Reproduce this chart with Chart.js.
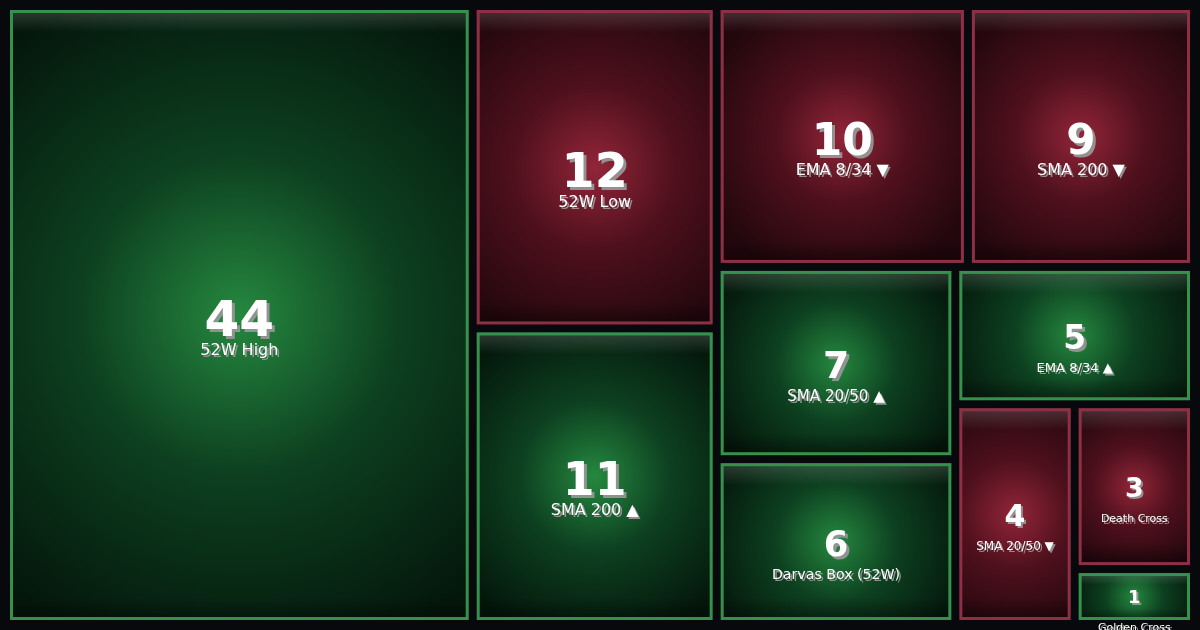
<!DOCTYPE html>
<html>
<head>
<meta charset="utf-8">
<script src="https://cdn.jsdelivr.net/npm/chart.js@4.4.1/dist/chart.umd.min.js"></script>
<style>
  html, body { margin: 0; padding: 0; background: #07090d; }
  #wrap { width: 1200px; height: 630px; }
</style>
</head>
<body>
<div id="wrap"><canvas id="treemap"></canvas></div>
<script>
// signal counts, largest first
const signalLabels = ['52W High', '52W Low', 'SMA 200 ▲', 'EMA 8/34 ▼', 'SMA 200 ▼', 'SMA 20/50 ▲', 'Darvas Box (52W)', 'EMA 8/34 ▲', 'SMA 20/50 ▼', 'Death Cross', 'Golden Cross'];
const signalCounts = [44, 12, 11, 10, 9, 7, 6, 5, 4, 3, 1];
const signalTrend = ['up', 'down', 'up', 'down', 'down', 'up', 'up', 'up', 'down', 'down', 'up'];

const palettes = {
  up: { inner: '#25883f', mid: '#0d4020', outer: '#04170b', border: '#35914c' },
  down: { inner: '#922539', mid: '#4e101c', outer: '#22070d', border: '#8e3044' }
};

// squarified treemap layout (Bruls et al.)
function squarify(values, x, y, w, h) {
  const total = values.reduce((a, b) => a + b, 0);
  const k = (w * h) / total;
  const items = values.map((v, i) => ({ i, a: v * k }));
  const out = [];
  let rect = { x, y, w, h };

  const worst = (row, side) => {
    const s = row.reduce((a, r) => a + r.a, 0);
    let max = -Infinity, min = Infinity;
    row.forEach(r => { max = Math.max(max, r.a); min = Math.min(min, r.a); });
    return Math.max((side * side * max) / (s * s), (s * s) / (side * side * min));
  };

  const layoutRow = row => {
    const s = row.reduce((a, r) => a + r.a, 0);
    if (rect.w >= rect.h) {
      const cw = s / rect.h;
      let cy = rect.y;
      row.forEach(r => { const hh = r.a / cw; out[r.i] = { x: rect.x, y: cy, w: cw, h: hh }; cy += hh; });
      rect = { x: rect.x + cw, y: rect.y, w: rect.w - cw, h: rect.h };
    } else {
      const rh = s / rect.w;
      let cx = rect.x;
      row.forEach(r => { const ww = r.a / rh; out[r.i] = { x: cx, y: rect.y, w: ww, h: rh }; cx += ww; });
      rect = { x: rect.x, y: rect.y + rh, w: rect.w, h: rect.h - rh };
    }
  };

  let row = [];
  let n = 0;
  while (n < items.length) {
    const side = Math.min(rect.w, rect.h);
    const next = items[n];
    if (!row.length || worst(row.concat(next), side) <= worst(row, side)) {
      row.push(next);
      n++;
    } else {
      layoutRow(row);
      row = [];
    }
  }
  if (row.length) layoutRow(row);
  return out;
}

function shadowText(ctx, text, x, y, off) {
  ctx.fillStyle = 'rgba(150,150,150,0.95)';
  ctx.fillText(text, x + off, y + off);
  ctx.fillStyle = '#ffffff';
  ctx.fillText(text, x, y);
}

function drawCell(ctx, r, i) {
  const gap = 4;
  const x0 = r.x + gap, y0 = r.y + gap, w = r.w - 2 * gap, h = r.h - 2 * gap;
  const pal = palettes[signalTrend[i]];
  const mx = x0 + w / 2, my = y0 + h / 2;

  const glow = ctx.createRadialGradient(mx, my, 0, mx, my, Math.max(w, h) * 0.58);
  glow.addColorStop(0, pal.inner);
  glow.addColorStop(0.45, pal.mid);
  glow.addColorStop(1, pal.outer);
  ctx.fillStyle = glow;
  ctx.fillRect(x0, y0, w, h);

  const band = Math.min(22, h / 4);
  const sheen = ctx.createLinearGradient(0, y0, 0, y0 + band);
  sheen.addColorStop(0, 'rgba(255,255,255,0.17)');
  sheen.addColorStop(1, 'rgba(255,255,255,0)');
  ctx.fillStyle = sheen;
  ctx.fillRect(x0, y0, w, band);

  const shade = ctx.createLinearGradient(0, y0 + h - band, 0, y0 + h);
  shade.addColorStop(0, 'rgba(0,0,0,0)');
  shade.addColorStop(1, 'rgba(0,0,0,0.4)');
  ctx.fillStyle = shade;
  ctx.fillRect(x0, y0 + h - band, w, band);

  ctx.lineWidth = 3;
  ctx.strokeStyle = pal.border;
  ctx.strokeRect(x0 + 1.5, y0 + 1.5, w - 3, h - 3);

  const numSize = Math.min(50, 6 + 12 * Math.sqrt(signalCounts[i]));
  const labSize = Math.max(11, Math.min(16, numSize * 0.4));
  ctx.textAlign = 'center';
  ctx.textBaseline = 'middle';
  ctx.font = `bold ${numSize}px "DejaVu Sans"`;
  shadowText(ctx, String(signalCounts[i]), mx, my + numSize * 0.2 - 2, numSize > 30 ? 3 : 2);
  ctx.font = `${labSize}px "DejaVu Sans"`;
  shadowText(ctx, signalLabels[i], mx, my + 29 + numSize * 0.13, 2);
}

const treemapCells = {
  id: 'treemapCells',
  afterDatasetsDraw(chart) {
    const { ctx, scales: { x, y } } = chart;
    const left = x.getPixelForValue(0);
    const right = x.getPixelForValue(1);
    const top = y.getPixelForValue(1);
    const bottom = y.getPixelForValue(0);
    const rects = squarify(signalCounts, left, top, right - left, bottom - top);
    ctx.save();
    rects.forEach((r, i) => drawCell(ctx, r, i));
    ctx.restore();
  }
};

new Chart(document.getElementById('treemap'), {
  type: 'scatter',
  data: { datasets: [{ data: [], pointRadius: 0 }] },
  options: {
    responsive: true,
    maintainAspectRatio: false,
    animation: false,
    layout: { padding: 6 },
    plugins: { legend: { display: false }, tooltip: { enabled: false } },
    scales: {
      x: { type: 'linear', min: 0, max: 1, display: false },
      y: { type: 'linear', min: 0, max: 1, display: false }
    }
  },
  plugins: [treemapCells]
});
</script>
</body>
</html>
